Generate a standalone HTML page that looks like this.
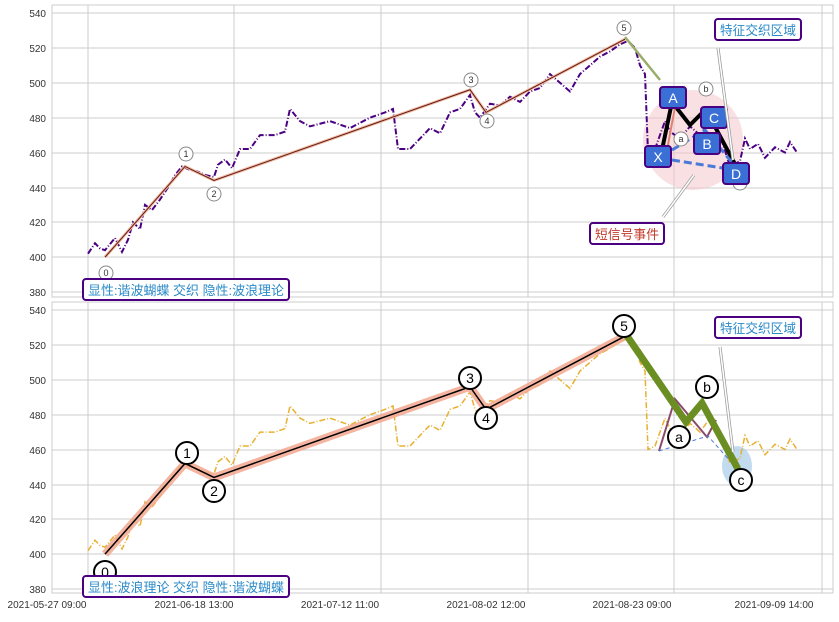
<!DOCTYPE html>
<html><head><meta charset="utf-8"><style>
body{margin:0;background:#fff;}
svg text{font-family:"Liberation Sans","Noto Sans CJK SC",sans-serif;}
</style></head><body>
<svg width="839" height="617" xmlns="http://www.w3.org/2000/svg">
<defs>
<polyline id="ser" fill="none" vector-effect="non-scaling-stroke" points="88,402 95,408 100,405 105,404 115,411 122,403 128,410 133,420 140,416 145,430 152,427 160,433 168,440 175,447 182,452 190,450 198,449 206,447 214,446 218,453 225,456 232,451 240,462 250,462 260,470 275,470 285,472 290,485 300,478 310,475 330,478 350,474 370,480 385,483 393,485 398,462 410,462 420,468 430,474 440,471 450,483 460,485 470,493 475,483 480,480 490,488 500,487 510,492 520,489 530,495 540,497 550,505 560,500 570,495 580,505 590,510 600,515 610,518 620,522 628,524 635,520 640,510 645,505 648,460 655,462 660,470 665,478 670,472 680,468 690,475 700,470 710,478 720,470 730,452 740,455 745,468 750,462 758,465 765,457 775,463 785,460 790,466 797,460"/>
<polyline id="wave" fill="none" vector-effect="non-scaling-stroke" points="105,400 185,452 214,444 470,496 486,483 625,525"/>
</defs>
<g stroke="#ccc" stroke-width="1" fill="none">
<rect x="52" y="5" width="781" height="292"/>
<rect x="52" y="302" width="781" height="291"/>
<path d="M88,5V297M234,5V297M381,5V297M528,5V297M674,5V297M822,5V297M88,302V593M234,302V593M381,302V593M528,302V593M674,302V593M822,302V593"/>
<path d="M52,13H833M52,48H833M52,83H833M52,118H833M52,153H833M52,188H833M52,222H833M52,257H833M52,292H833"/>
<path d="M52,310H833M52,345H833M52,380H833M52,415H833M52,450H833M52,485H833M52,519H833M52,554H833M52,589H833"/>
</g>
<g font-size="10" fill="#333" text-anchor="end">
<text x="46" y="17">540</text><text x="46" y="52">520</text><text x="46" y="87">500</text><text x="46" y="122">480</text><text x="46" y="157">460</text><text x="46" y="192">440</text><text x="46" y="226">420</text><text x="46" y="261">400</text><text x="46" y="296">380</text>
<text x="46" y="314">540</text><text x="46" y="349">520</text><text x="46" y="384">500</text><text x="46" y="419">480</text><text x="46" y="454">460</text><text x="46" y="489">440</text><text x="46" y="523">420</text><text x="46" y="558">400</text><text x="46" y="593">380</text>
</g>
<g font-size="10" fill="#333" text-anchor="middle">
<text x="47" y="608">2021-05-27 09:00</text><text x="194" y="608">2021-06-18 13:00</text><text x="340" y="608">2021-07-12 11:00</text><text x="486" y="608">2021-08-02 12:00</text><text x="632" y="608">2021-08-23 09:00</text><text x="774" y="608">2021-09-09 14:00</text>
</g>
<!-- TOP -->
<circle cx="693" cy="140" r="50" fill="#f4c6cc" opacity="0.55"/>
<g transform="translate(0,954.76) scale(1,-1.744)">
<use href="#ser" stroke="#4b0082" stroke-width="2" stroke-dasharray="6,2,1,2"/>
<use href="#wave" stroke="#f4b89c" stroke-width="3"/>
<use href="#wave" stroke="#5a1a1a" stroke-width="1"/>
</g>
<path d="M625,37L660,80" stroke="#9aae6a" stroke-width="2.5"/>
<path d="M662,150L672,102L690,125L702,113L713,123L736,166" stroke="#000" stroke-width="4" fill="none"/>
<path d="M667,150L676,102" stroke="#e08070" stroke-width="2"/>
<path d="M672,150L705,130L740,172M672,160L735,170" stroke="#4a7ad8" stroke-width="3" stroke-dasharray="8,4" fill="none"/>
<g fill="#fff" stroke="#888" font-size="9" text-anchor="middle">
<circle cx="106" cy="273" r="7"/><circle cx="186" cy="154" r="7"/><circle cx="214" cy="194" r="7"/><circle cx="471" cy="80" r="7"/><circle cx="487" cy="121" r="7"/><circle cx="624" cy="28" r="7"/><circle cx="681" cy="139" r="7"/><circle cx="706" cy="89" r="7"/><circle cx="740" cy="183" r="7"/>
</g>
<g font-size="9" fill="#333" text-anchor="middle">
<text x="106" y="276">0</text><text x="186" y="157">1</text><text x="214" y="197">2</text><text x="471" y="83">3</text><text x="487" y="124">4</text><text x="624" y="31">5</text><text x="681" y="142">a</text><text x="706" y="92">b</text>
</g>
<g stroke="#4b0082" stroke-width="2" fill="#3a6fd6">
<rect x="660" y="87" width="26" height="21" rx="3"/><rect x="645" y="146" width="26" height="21" rx="3"/><rect x="694" y="133" width="26" height="21" rx="3"/><rect x="701" y="107" width="26" height="21" rx="3"/><rect x="723" y="163" width="26" height="21" rx="3"/>
</g>
<g font-size="14" fill="#fff" text-anchor="middle">
<text x="673" y="103">A</text><text x="658" y="162">X</text><text x="707" y="149">B</text><text x="714" y="123">C</text><text x="736" y="179">D</text>
</g>
<path d="M718,48L733,160M663,217L694,175" stroke="#999" stroke-width="3" fill="none"/>
<path d="M718,48L733,160M663,217L694,175" stroke="#fff" stroke-width="1.5" fill="none"/>
<rect x="715" y="19" width="86" height="21" rx="3" fill="#fff" stroke="#4b0082" stroke-width="2"/>
<text x="720" y="35" font-size="13" fill="#2a8ac8" textLength="76" lengthAdjust="spacingAndGlyphs">特征交织区域</text>
<rect x="590" y="223" width="74" height="21" rx="3" fill="#fff" stroke="#4b0082" stroke-width="2"/>
<text x="595" y="239" font-size="13" fill="#c0392b" textLength="64" lengthAdjust="spacingAndGlyphs">短信号事件</text>
<rect x="83" y="279" width="206" height="21" rx="3" fill="#fff" stroke="#4b0082" stroke-width="2"/>
<text x="88" y="295" font-size="13" fill="#2a8ac8" textLength="196" lengthAdjust="spacingAndGlyphs">显性:谐波蝴蝶 交织 隐性:波浪理论</text>
<!-- BOTTOM -->
<ellipse cx="737" cy="466" rx="15" ry="20" fill="#a8cce8" opacity="0.7"/>
<g transform="translate(0,1251.76) scale(1,-1.744)">
<use href="#ser" stroke="#e8b030" stroke-width="1.5" stroke-dasharray="6,2,1,2"/>
<use href="#wave" stroke="#f4a890" stroke-width="8" opacity="0.85"/>
<use href="#wave" stroke="#000" stroke-width="1.5"/>
</g>
<path d="M659,451L675,399L707,437L716,420" stroke="#8a4a6a" stroke-width="2" fill="none"/>
<path d="M659,451L708,436L738,470" stroke="#4a7ad8" stroke-width="1" stroke-dasharray="4,3" fill="none"/>
<path d="M625,333L686,422L702,403L738,469" stroke="#6b8e23" stroke-width="7" fill="none" stroke-linejoin="miter"/>
<path d="M720,347L733,452" stroke="#999" stroke-width="3"/><path d="M720,347L733,452" stroke="#fff" stroke-width="1.5"/>
<g fill="#fff" stroke="#000" stroke-width="2">
<circle cx="105" cy="572" r="11"/><circle cx="187" cy="453" r="11"/><circle cx="214" cy="491" r="11"/><circle cx="470" cy="378" r="11"/><circle cx="486" cy="418" r="11"/><circle cx="624" cy="326" r="11"/><circle cx="679" cy="437" r="11"/><circle cx="707" cy="387" r="11"/><circle cx="741" cy="480" r="11"/>
</g>
<g font-size="14" fill="#000" text-anchor="middle">
<text x="105" y="577">0</text><text x="187" y="458">1</text><text x="214" y="496">2</text><text x="470" y="383">3</text><text x="486" y="423">4</text><text x="624" y="331">5</text><text x="679" y="442">a</text><text x="707" y="392">b</text><text x="741" y="485">c</text>
</g>
<rect x="715" y="317" width="86" height="21" rx="3" fill="#fff" stroke="#4b0082" stroke-width="2"/>
<text x="720" y="333" font-size="13" fill="#2a8ac8" textLength="76" lengthAdjust="spacingAndGlyphs">特征交织区域</text>
<rect x="83" y="576" width="206" height="21" rx="3" fill="#fff" stroke="#4b0082" stroke-width="2"/>
<text x="88" y="592" font-size="13" fill="#2a8ac8" textLength="196" lengthAdjust="spacingAndGlyphs">显性:波浪理论 交织 隐性:谐波蝴蝶</text>
</svg>
</body></html>
